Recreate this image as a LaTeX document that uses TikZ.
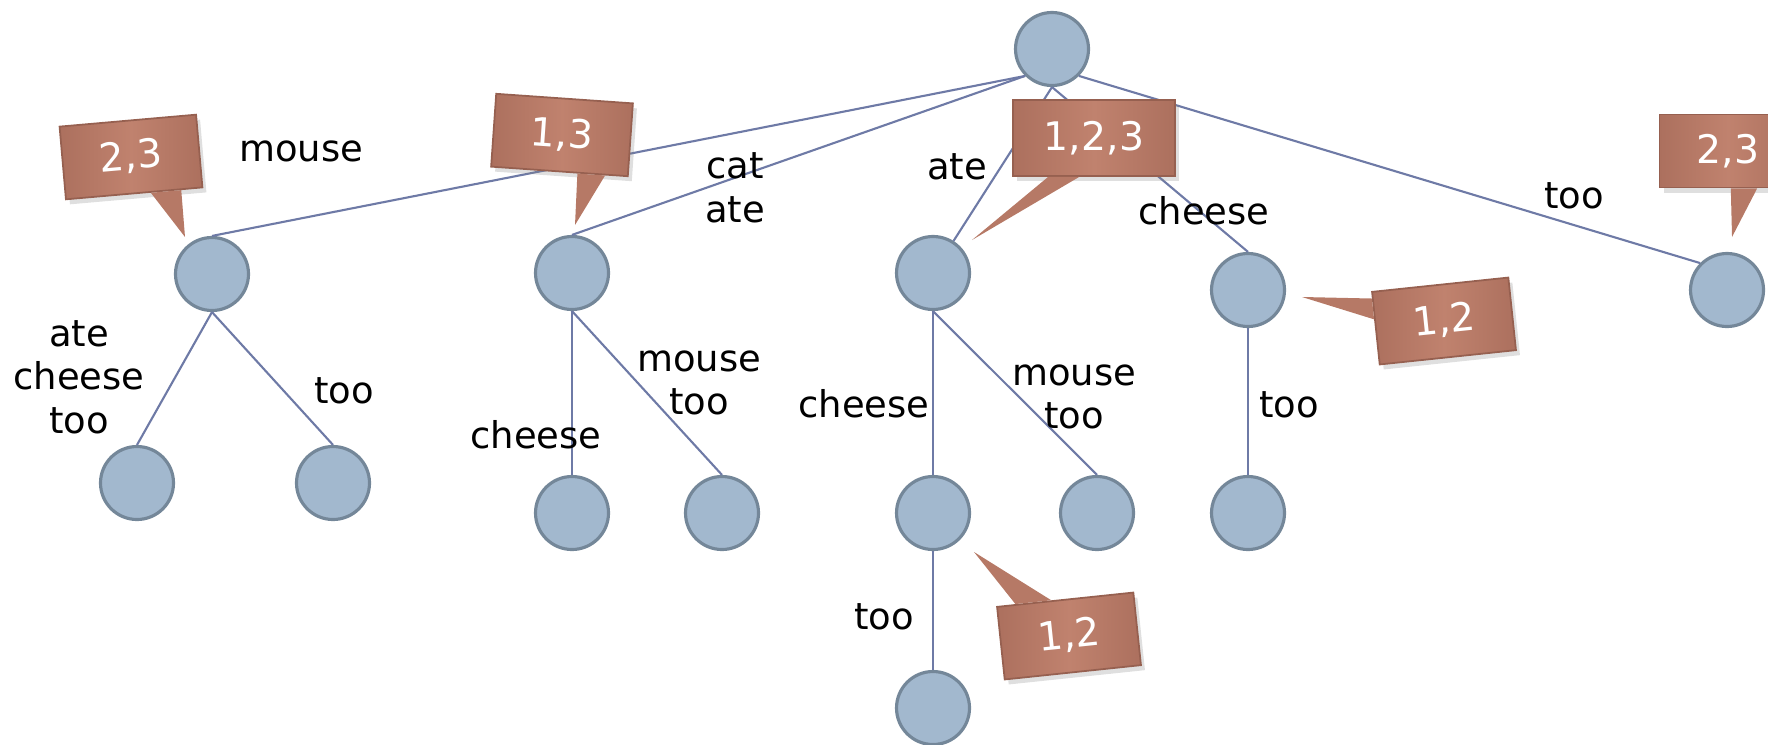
\documentclass[tikz,border=0pt]{standalone}
\usepackage{fontspec}
\setmainfont{DejaVu Sans}
\usepackage{tikz}
\usetikzlibrary{positioning}
\usetikzlibrary{calc, shadows}

\definecolor{nodeFill}{RGB}{162,184,206}
\definecolor{nodeLine}{RGB}{116,135,153}
\definecolor{branchLine}{RGB}{110,122,166}
\definecolor{countLight}{RGB}{192,130,110}
\definecolor{countDark}{RGB}{172,112,94}
\definecolor{countMid}{RGB}{182,121,102}
\definecolor{countEdge}{RGB}{150,96,80}

\tikzstyle{trie} = [circle, draw=nodeLine, fill=nodeFill, line width=0.9pt, minimum size=0.73cm, inner sep=0pt]
\tikzstyle{branch} = [draw=branchLine, line width=0.6pt]
\tikzstyle{word} = [align=center, inner sep=0pt, font=\fontsize{10.5}{12.4}\selectfont]
\tikzstyle{countbox} = [rectangle, minimum width=1.37cm, minimum height=0.73cm, inner sep=0pt, left color=countDark, right color=countDark, middle color=countLight, draw=countEdge, line width=0.5pt, text=white, font=\fontsize{11.2}{13}\selectfont, drop shadow={opacity=0.25, shadow xshift=0.04cm, shadow yshift=-0.05cm}]
\tikzstyle{countTip} = [fill=countMid]

\begin{document}
\begin{tikzpicture}
%Frame
\clip (0,0) rectangle (17.68,7.44);

%Nodes
\node[trie] (root) at (10.52,6.95) {};
\node[trie] (mouse) at (2.12,4.70) {};
\node[trie] (catAte) at (5.72,4.71) {};
\node[trie] (ate) at (9.33,4.71) {};
\node[trie] (cheese) at (12.48,4.54) {};
\node[trie] (too) at (17.27,4.54) {};
\node[trie] (mouseAte) at (1.37,2.61) {};
\node[trie] (mouseToo) at (3.33,2.61) {};
\node[trie] (catAteCheese) at (5.72,2.31) {};
\node[trie] (catAteMouse) at (7.22,2.31) {};
\node[trie] (ateCheese) at (9.33,2.31) {};
\node[trie] (ateMouse) at (10.97,2.31) {};
\node[trie] (ateCheeseToo) at (9.33,0.36) {};
\node[trie] (cheeseToo) at (12.48,2.31) {};

%Lines
\draw[branch] (root.south west) -- (mouse.north);
\draw[branch] (root.south west) -- (catAte.north);
\draw[branch] (root.south) -- (ate);
\draw[branch] (root.south) -- (cheese.north);
\draw[branch] (root.south east) -- (too.north west);
\draw[branch] (mouse.south) -- (mouseAte.north);
\draw[branch] (mouse.south) -- (mouseToo.north);
\draw[branch] (catAte.south) -- (catAteCheese.north);
\draw[branch] (catAte.south) -- (catAteMouse.north);
\draw[branch] (ate.south) -- (ateCheese.north);
\draw[branch] (ate.south) -- (ateMouse.north);
\draw[branch] (ateCheese.south) -- (ateCheeseToo.north);
\draw[branch] (cheese.south) -- (cheeseToo.north);

%Labels
\node[word] (mouseLabel) at (3.01,5.93) {mouse};
\node[word] (catAteLabel) at (7.35,5.56) {cat\\ate};
\node[word] (ateLabel) at (9.57,5.77) {ate};
\node[word] (cheeseLabel) at (12.04,5.33) {cheese};
\node[word] (tooLabel) at (15.74,5.48) {too};
\node[word] (mouseAteLabel) at (0.79,3.67) {ate\\cheese\\too};
\node[word] (mouseTooLabel) at (3.44,3.53) {too};
\node[word] (catAteMouseLabel) at (6.99,3.61) {mouse\\too};
\node[word] (catAteCheeseLabel) at (5.36,3.09) {cheese};
\node[word] (ateCheeseLabel) at (8.64,3.40) {cheese};
\node[word] (ateMouseLabel) at (10.74,3.47) {mouse\\too};
\node[word] (cheeseTooLabel) at (12.89,3.39) {too};
\node[word] (ateCheeseTooLabel) at (8.84,1.27) {too};

%Counts
\node[countbox, rotate=5] (mouseCount) at (1.31,5.87) {2,3};
\coordinate (mouseTip) at (1.85,5.07);
\fill[countTip] ($(mouseCount.south west)!0.62!(mouseCount.south east)$) -- (mouseTip) -- ($(mouseCount.south west)!0.84!(mouseCount.south east)$) -- cycle;

\node[countbox, rotate=-4] (catAteCount) at (5.62,6.09) {1,3};
\coordinate (catAteTip) at (5.75,5.19);
\fill[countTip] ($(catAteCount.south west)!0.63!(catAteCount.south east)$) -- (catAteTip) -- ($(catAteCount.south west)!0.83!(catAteCount.south east)$) -- cycle;

\node[countbox, minimum width=1.62cm, minimum height=0.76cm] (ateCount) at (10.94,6.06) {1,2,3};
\coordinate (ateTip) at (9.72,5.04);
\fill[countTip] ($(ateCount.south west)!0.22!(ateCount.south east)$) -- (ateTip) -- ($(ateCount.south west)!0.41!(ateCount.south east)$) -- cycle;

\node[countbox, rotate=6] (cheeseCount) at (14.44,4.23) {1,2};
\coordinate (cheeseTip) at (13.02,4.47);
\fill[countTip] ($(cheeseCount.north west)!0.1!(cheeseCount.south west)$) -- (cheeseTip) -- ($(cheeseCount.north west)!0.38!(cheeseCount.south west)$) -- cycle;

\node[countbox, rotate=6] (ateCheeseCount) at (10.69,1.08) {1,2};
\coordinate (ateCheeseTip) at (9.74,1.92);
\fill[countTip] ($(ateCheeseCount.north west)!0.14!(ateCheeseCount.north east)$) -- (ateCheeseTip) -- ($(ateCheeseCount.north west)!0.4!(ateCheeseCount.north east)$) -- cycle;

\node[countbox] (tooCount) at (17.28,5.93) {2,3};
\coordinate (tooTip) at (17.32,5.07);
\fill[countTip] ($(tooCount.south west)!0.52!(tooCount.south east)$) -- (tooTip) -- ($(tooCount.south west)!0.71!(tooCount.south east)$) -- cycle;

\end{tikzpicture}
\end{document}
